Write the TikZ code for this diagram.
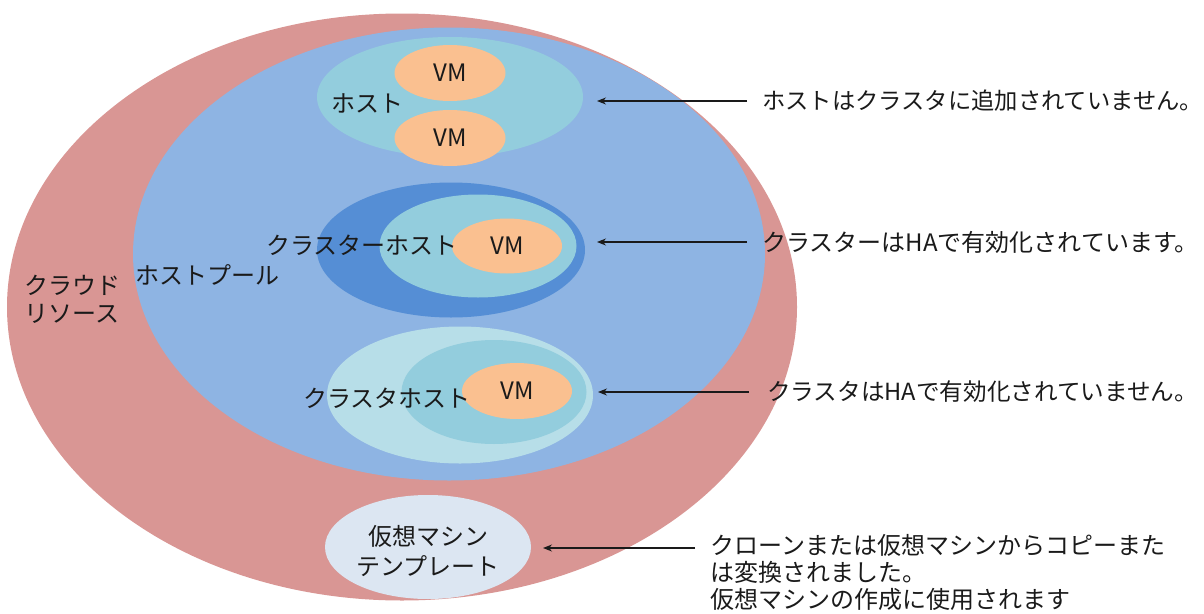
\documentclass[tikz,border=0pt]{standalone}
\usepackage{fontspec}
\setmainfont{Noto Sans CJK JP}
\usetikzlibrary{shapes.geometric,arrows.meta}
\definecolor{cloud}{HTML}{D99694}
\definecolor{pool}{HTML}{8EB4E3}
\definecolor{hostc}{HTML}{93CDDD}
\definecolor{vmc}{HTML}{FAC090}
\definecolor{clusterha}{HTML}{558ED5}
\definecolor{clusterno}{HTML}{B7DEE8}
\definecolor{tmpl}{HTML}{DCE6F2}
\definecolor{ink}{HTML}{1A1A1A}
\begin{document}
\begin{tikzpicture}[x=1pt,y=-1pt,
  blob/.style={ellipse,draw=none,inner sep=0pt,text=ink,font=\fontsize{24}{28}\selectfont},
  lbl/.style={inner sep=0pt,text=ink,font=\fontsize{24}{28}\selectfont},
  arr/.style={-{Stealth[length=9pt,width=7pt]},line width=1.1pt,draw=ink}]
\useasboundingbox (0,0) rectangle (1204,613);
% cloud resources
\node[blob,fill=cloud,minimum width=790pt,minimum height=587pt] (cloud) at (402,307) {};
% host pool
\node[blob,fill=pool,minimum width=632pt,minimum height=453pt] (pool) at (449,254) {};
% standalone host
\node[blob,fill=hostc,minimum width=266pt,minimum height=120pt] (host) at (450,97) {};
\node[blob,fill=vmc,minimum width=111pt,minimum height=56pt] (vm1) at (450,73) {VM};
\node[blob,fill=vmc,minimum width=111pt,minimum height=56pt] (vm2) at (450,138) {VM};
% HA cluster
\node[blob,fill=clusterha,minimum width=268pt,minimum height=135pt] (cha) at (451,250) {};
\node[blob,fill=hostc,minimum width=197pt,minimum height=103pt] (hha) at (478,246) {};
\node[blob,fill=vmc,minimum width=110pt,minimum height=55pt] (vm3) at (507,246) {VM};
% non-HA cluster
\node[blob,fill=clusterno,minimum width=266pt,minimum height=137pt] (cno) at (460,395) {};
\node[blob,fill=hostc,minimum width=185pt,minimum height=104pt] (hno) at (494,392) {};
\node[blob,fill=vmc,minimum width=110pt,minimum height=56pt] (vm4) at (517,391) {VM};
% template
\node[blob,fill=tmpl,minimum width=206pt,minimum height=104pt] (tpl) at (428,547) {};
% labels
\node[lbl] (lhost) at (367,103) {ホスト};
\node[lbl] (lcha) at (362,245) {クラスターホスト};
\node[lbl] (lcno) at (387,398) {クラスタホスト};
\node[lbl] (lpool) at (207,275) {ホストプール};
\node[lbl,align=center] (lcloud) at (72,299) {クラウド\\リソース};
\node[lbl,align=center,font=\fontsize{24}{30}\selectfont] (ltpl) at (428,551) {仮想マシン\\テンプレート};
% annotations
\node[lbl,anchor=west,font=\fontsize{23.3}{28}\selectfont] (t1) at (762,101) {ホストはクラスタに追加されていません。};
\node[lbl,anchor=west] (t2) at (762,242) {クラスターはHAで有効化されています。};
\node[lbl,anchor=west,font=\fontsize{23.6}{28}\selectfont] (t3) at (767,392) {クラスタはHAで有効化されていません。};
\node[lbl,anchor=north west,align=left,font=\fontsize{24}{27}\selectfont] (t4) at (710,534) {クローンまたは仮想マシンからコピーまた\\は変換されました。\\仮想マシンの作成に使用されます};
\coordinate (p1) at (597,101);
\coordinate (p2) at (597,242);
\coordinate (p3) at (598,392);
\coordinate (p4) at (543,548);
\draw[arr,shorten <=15pt] (t1.west) -- (p1);
\draw[arr,shorten <=15pt] (t2.west) -- (p2);
\draw[arr,shorten <=18pt] (t3.west) -- (p3);
\draw[arr,shorten <=15pt] (t4.north west |- p4) -- (p4);
\end{tikzpicture}
\end{document}
